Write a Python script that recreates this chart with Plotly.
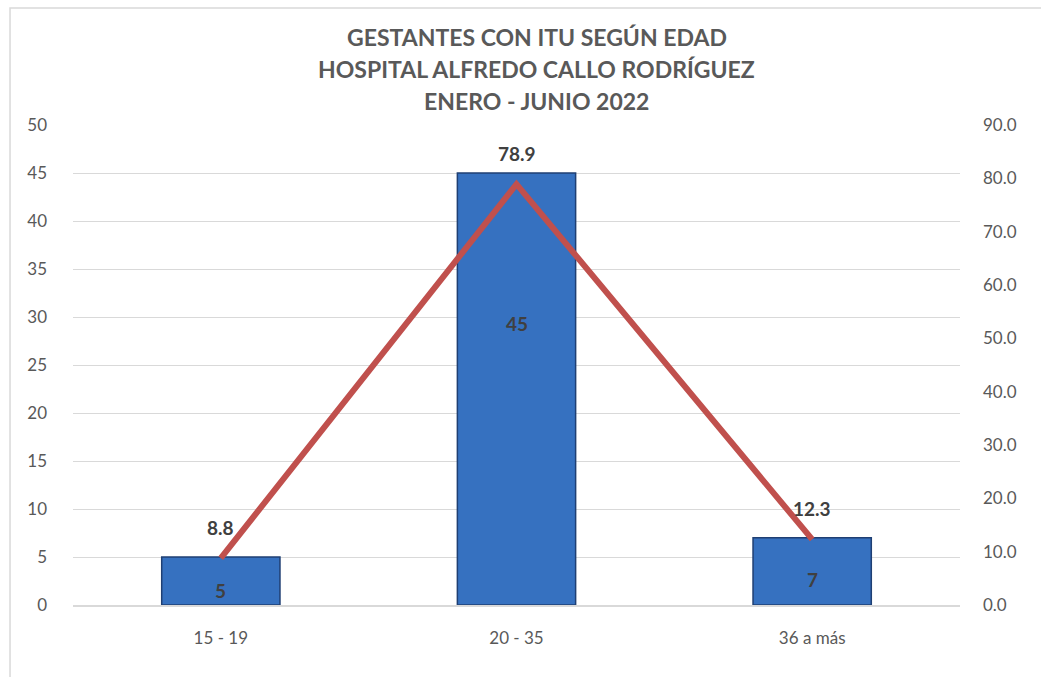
import plotly.graph_objects as go

categorias = ["15 - 19", "20 - 35", "36 a más"]
gestantes = [5, 45, 7]
porcentaje = [8.8, 78.9, 12.3]

titulo = ["GESTANTES CON ITU SEGÚN EDAD",
          "HOSPITAL ALFREDO CALLO RODRÍGUEZ",
          "ENERO - JUNIO 2022"]

gris = "#595959"
oscuro = "#404040"
fuente = "Lato"

fig = go.Figure()

fig.add_trace(go.Bar(
    x=categorias, y=gestantes,
    marker=dict(color="#3671C0", line=dict(color="#1F3F73", width=1.5)),
    width=0.4,
    hoverinfo="skip",
))

fig.add_trace(go.Scatter(
    x=categorias, y=porcentaje, yaxis="y2",
    mode="lines",
    line=dict(color="#C0504D", width=6),
    hoverinfo="skip",
))

anotaciones = []
# etiquetas de la linea (porcentaje)
for c, v in zip(categorias, porcentaje):
    anotaciones.append(dict(
        x=c, y=v, xref="x", yref="y2", text=f"{v:.1f}", showarrow=False,
        yshift=31, font=dict(family=fuente, size=19, color=oscuro, weight="bold"),
    ))
# etiquetas de las barras
desplaz = [-33, -150, -42]
for c, v, d in zip(categorias, gestantes, desplaz):
    anotaciones.append(dict(
        x=c, y=v, xref="x", yref="y", text=str(v), showarrow=False,
        yshift=d, font=dict(family=fuente, size=19, color=oscuro, weight="bold"),
    ))
# titulo en tres lineas
for linea, yp in zip(titulo, [1.183, 1.117, 1.05]):
    anotaciones.append(dict(
        x=0.523, y=yp, xref="paper", yref="paper", text=linea, showarrow=False,
        xanchor="center", yanchor="middle",
        font=dict(family=fuente, size=23, color=gris, weight="bold"),
    ))

fig.update_layout(
    width=1041, height=677,
    margin=dict(l=73, r=81, t=125, b=72),
    paper_bgcolor="white", plot_bgcolor="white",
    showlegend=False,
    annotations=anotaciones,
    xaxis=dict(
        tickfont=dict(family=fuente, size=17, color=gris),
        showgrid=False, showline=True, linecolor="#D9D9D9", linewidth=2,
        ticks="", ticklabelstandoff=17,
    ),
    yaxis=dict(
        range=[0, 50], dtick=5,
        tickfont=dict(family=fuente, size=17, color=gris),
        gridcolor="#D9D9D9", gridwidth=1.2, zeroline=False,
        ticklabelstandoff=25,
    ),
    yaxis2=dict(
        range=[0, 90], dtick=10, tickformat=".1f",
        overlaying="y", side="right",
        tickfont=dict(family=fuente, size=17, color=gris),
        showgrid=False, zeroline=False,
        ticklabelstandoff=22,
    ),
    shapes=[dict(
        type="rect", xref="paper", yref="paper",
        x0=-0.071, x1=1.5, y0=-0.5, y1=1.244,
        line=dict(color="#D9D9D9", width=1.5), layer="below",
    )],
)

fig.write_html("out.html", config={"displayModeBar": False},
               post_script="document.body.style.margin='0';")
